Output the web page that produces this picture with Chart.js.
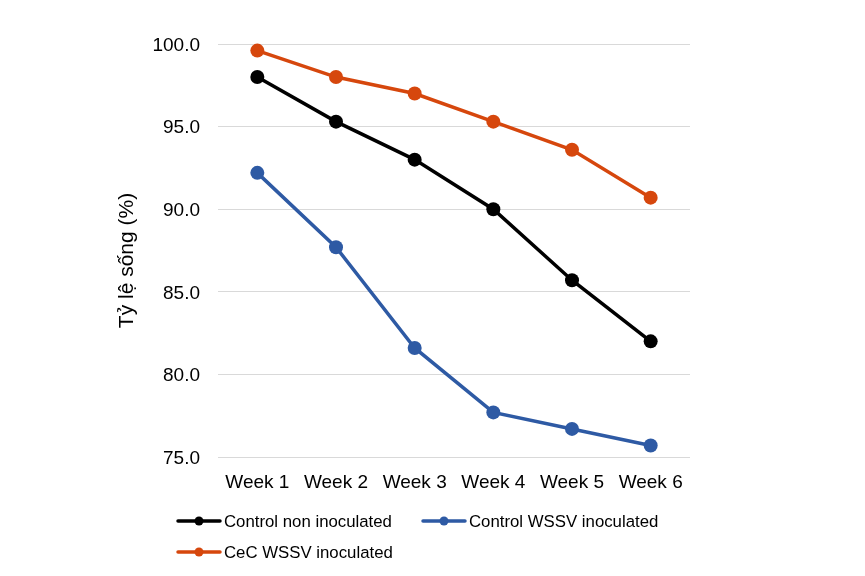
<!DOCTYPE html>
<html>
<head>
<meta charset="utf-8">
<script src="https://cdn.jsdelivr.net/npm/chart.js@4/dist/chart.umd.min.js"></script>
<style>
html,body{margin:0;padding:0;background:#fff;}
#wrap{width:865px;height:576px;position:relative;}
</style>
</head>
<body>
<div id="wrap"><canvas id="c" width="865" height="576"></canvas></div>
<script>
const categories = ['Week 1','Week 2','Week 3','Week 4','Week 5','Week 6'];
const seriesNames = ['Control non inoculated','Control WSSV inoculated','CeC WSSV inoculated'];
const controlNon = [98.0, 95.3, 93.0, 90.0, 85.7, 82.0];
const controlWSSV = [92.2, 87.7, 81.6, 77.7, 76.7, 75.7];
const cecWSSV = [99.6, 98.0, 97.0, 95.3, 93.6, 90.7];
const yTicks = [75, 80, 85, 90, 95, 100];
const yTitle = 'Tỷ lệ sống (%)';
const colors = ['#000000', '#2E5AA4', '#D6470D'];

const FONT = '"Liberation Sans", Arial, sans-serif';

const legendPlugin = {
  id: 'customLegend',
  afterDraw(chart) {
    const ctx = chart.ctx;
    const pos = [[178, 521], [423, 521], [178, 552]];
    ctx.save();
    chart.data.datasets.forEach((ds, i) => {
      const [x, y] = pos[i];
      ctx.strokeStyle = ds.borderColor;
      ctx.lineWidth = 3.5;
      ctx.lineCap = 'round';
      ctx.beginPath();
      ctx.moveTo(x, y);
      ctx.lineTo(x + 42, y);
      ctx.stroke();
      ctx.fillStyle = ds.borderColor;
      ctx.beginPath();
      ctx.arc(x + 21, y, 4.5, 0, Math.PI * 2);
      ctx.fill();
      ctx.fillStyle = '#000';
      ctx.font = '16.8px ' + FONT;
      ctx.textBaseline = 'middle';
      ctx.textAlign = 'left';
      ctx.fillText(ds.label, x + 46, y + 1);
    });
    ctx.restore();
  }
};

const datasets = [controlNon, controlWSSV, cecWSSV].map((d, i) => ({
  label: seriesNames[i],
  data: d,
  borderColor: colors[i],
  backgroundColor: colors[i],
  borderWidth: 3.5,
  pointRadius: 7,
  pointHoverRadius: 7,
  pointBorderWidth: 0,
  tension: 0,
  clip: false
}));

function shiftDraw(scale, name, dx, dy) {
  if (scale['_patched_' + name]) return;
  scale['_patched_' + name] = true;
  const orig = scale[name];
  scale[name] = function () {
    const ctx = this.ctx;
    ctx.save();
    ctx.translate(dx, dy);
    orig.apply(this, arguments);
    ctx.restore();
  };
}

new Chart(document.getElementById('c'), {
  type: 'line',
  data: { labels: categories, datasets: datasets },
  options: {
    responsive: false,
    animation: false,
    devicePixelRatio: 1,
    layout: { padding: { left: 0, top: 44, right: 175, bottom: 0 } },
    plugins: { legend: { display: false }, tooltip: { enabled: false } },
    scales: {
      x: {
        offset: true,
        grid: { display: false, drawTicks: false },
        border: { display: false },
        ticks: { color: '#000', font: { family: FONT, size: 19 }, padding: 14, maxRotation: 0 },
        afterFit(scale) { scale.height = 576 - 457; }
      },
      y: {
        min: 75, max: 100,
        afterBuildTicks(scale) { scale.ticks = yTicks.map(v => ({ value: v })); },
        grid: { color: '#D9D9D9', lineWidth: 1, drawTicks: false },
        border: { display: false },
        ticks: { color: '#000', font: { family: FONT, size: 19 }, padding: 18, callback: v => Number(v).toFixed(1) },
        title: { display: true, text: yTitle, color: '#000', font: { family: FONT, size: 21 }, padding: { top: 115, bottom: 0 } },
        afterFit(scale) {
          scale.width = 218;
          shiftDraw(scale, 'drawTitle', 0, 10);
          shiftDraw(scale, 'drawLabels', 0, 1.5);
        }
      }
    }
  },
  plugins: [legendPlugin]
});
</script>
</body>
</html>
